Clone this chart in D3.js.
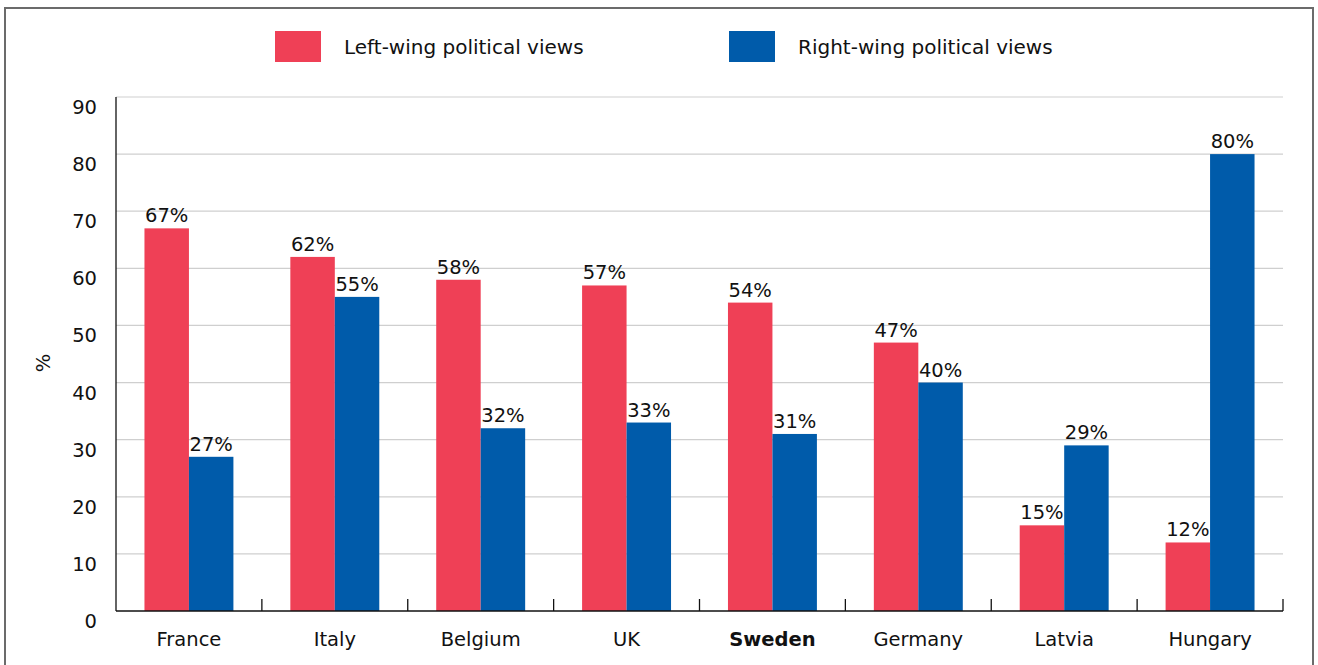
<!DOCTYPE html>
<html>
<head>
<meta charset="utf-8">
<script src="https://cdn.jsdelivr.net/npm/d3@7"></script>
<style>
  html, body { margin: 0; padding: 0; background: #fff; }
  svg { display: block; }
  text { font-family: "DejaVu Sans", "Liberation Sans", Arial, sans-serif; fill: #111; }
</style>
</head>
<body>
<svg id="chart" width="1318" height="665"></svg>
<script>
const categories = ["France", "Italy", "Belgium", "UK", "Sweden", "Germany", "Latvia", "Hungary"];
const leftWing  = [67, 62, 58, 57, 54, 47, 15, 12];
const rightWing = [27, 55, 32, 33, 31, 40, 29, 80];
const seriesNames = ["Left-wing political views", "Right-wing political views"];
const seriesColors = ["#ef4056", "#005baa"];
const yTicks = [0, 10, 20, 30, 40, 50, 60, 70, 80, 90];
const boldCategory = "Sweden";

const svg = d3.select("#chart");

// outer frame
svg.append("rect")
  .attr("x", 5).attr("y", 8).attr("width", 1308).attr("height", 670)
  .attr("fill", "none").attr("stroke", "#6b6b6b").attr("stroke-width", 2);

const plot = { left: 116, right: 1283, top: 97, bottom: 611 };
const fs = 19.5;

const x = d3.scaleBand().domain(categories).range([plot.left, plot.right]).padding(0);
const xs = d3.scaleBand().domain([0, 1]).range([0, x.bandwidth()]).paddingInner(0).paddingOuter(0.64);
const y = d3.scaleLinear().domain([0, 90]).range([plot.bottom, plot.top]);

// gridlines
svg.append("g").selectAll("line").data(yTicks.filter(d => d > 0)).join("line")
  .attr("x1", plot.left).attr("x2", plot.right)
  .attr("y1", d => y(d)).attr("y2", d => y(d))
  .attr("stroke", "#cfcfcf").attr("stroke-width", 1.2);

// y tick labels
svg.append("g").selectAll("text").data(yTicks).join("text")
  .attr("x", 97).attr("y", d => y(d) + 17)
  .attr("text-anchor", "end")
  .attr("font-size", fs)
  .text(d => d);

// y axis title
svg.append("text")
  .attr("transform", "translate(50,363) rotate(-90)")
  .attr("text-anchor", "middle")
  .attr("font-size", fs)
  .text("%");

// bars
const data = categories.map((c, i) => ({ c, vals: [leftWing[i], rightWing[i]] }));
const groups = svg.append("g").selectAll("g").data(data).join("g")
  .attr("transform", d => `translate(${x(d.c)},0)`);

groups.selectAll("rect").data(d => d.vals.map((v, k) => ({ v, k }))).join("rect")
  .attr("x", d => xs(d.k)).attr("width", xs.bandwidth())
  .attr("y", d => y(d.v)).attr("height", d => y(0) - y(d.v))
  .attr("fill", d => seriesColors[d.k]);

groups.selectAll("text.val").data(d => d.vals.map((v, k) => ({ v, k }))).join("text")
  .attr("class", "val")
  .attr("x", d => xs(d.k) + xs.bandwidth() / 2)
  .attr("y", d => y(d.v) - 6)
  .attr("text-anchor", "middle")
  .attr("font-size", fs)
  .text(d => d.v + "%");

// axes lines
svg.append("line")
  .attr("x1", plot.left).attr("x2", plot.left)
  .attr("y1", plot.top).attr("y2", plot.bottom)
  .attr("stroke", "#111").attr("stroke-width", 1.3);
svg.append("line")
  .attr("x1", plot.left).attr("x2", plot.right)
  .attr("y1", plot.bottom).attr("y2", plot.bottom)
  .attr("stroke", "#111").attr("stroke-width", 1.3);

// category boundary ticks
const bounds = categories.slice(1).map(c => x(c)).concat([plot.right]);
svg.append("g").selectAll("line").data(bounds).join("line")
  .attr("x1", d => d).attr("x2", d => d)
  .attr("y1", plot.bottom - 12).attr("y2", plot.bottom)
  .attr("stroke", "#111").attr("stroke-width", 1.3);

// category labels
svg.append("g").selectAll("text").data(categories).join("text")
  .attr("x", d => x(d) + x.bandwidth() / 2)
  .attr("y", 646)
  .attr("text-anchor", "middle")
  .attr("font-size", fs)
  .attr("font-weight", d => d === boldCategory ? "bold" : "normal")
  .text(d => d);

// legend
const legendX = [275, 729];
const leg = svg.append("g").selectAll("g").data(seriesNames).join("g");
leg.append("rect")
  .attr("x", (d, i) => legendX[i]).attr("y", 31)
  .attr("width", 46).attr("height", 31)
  .attr("fill", (d, i) => seriesColors[i]);
leg.append("text")
  .attr("x", (d, i) => legendX[i] + 69).attr("y", 54)
  .attr("font-size", 20)
  .text(d => d);
</script>
</body>
</html>
